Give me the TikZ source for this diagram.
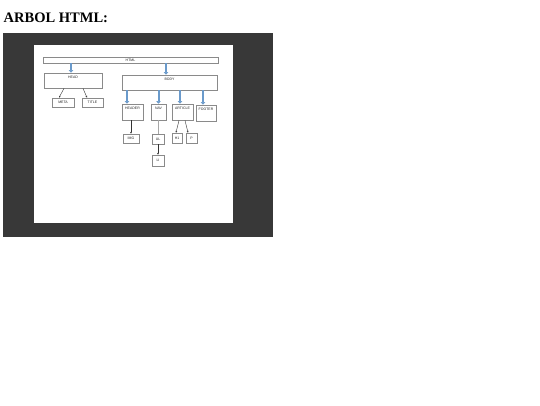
\documentclass[tikz,border=0pt]{standalone}
\usepackage{fontspec}
\setmainfont{Liberation Serif}
\newfontfamily\boxfont{Liberation Sans}
\usetikzlibrary{arrows.meta}
\definecolor{frameclr}{HTML}{383838}
\definecolor{arrblue}{HTML}{6A9ACB}
\definecolor{boxline}{HTML}{8A8A8A}
\tikzset{
  box/.style={draw=boxline, line width=0.8pt, fill=white, inner sep=0pt, font=\boxfont\fontsize{3.5}{4}\selectfont, text=black!85},
  lbl/.style={font=\boxfont\fontsize{3.5}{4}\selectfont, text=black!85, inner sep=0pt, anchor=north, yshift=-3pt},
  bluearr/.style={draw=arrblue, line width=2pt, -{Triangle[length=2.5pt,width=4.5pt]}},
  thinarr/.style={draw=black!80, line width=0.4pt, -{Stealth[length=1.8pt,width=1.8pt]}},
  thinline/.style={draw=black!35, line width=0.6pt}
}
\begin{document}
\begin{tikzpicture}[x=1pt,y=-1pt]
\useasboundingbox (0,0) rectangle (540,405);
\node[anchor=base west, inner sep=0pt, font=\fontsize{14.5}{16}\selectfont\bfseries] (title) at (3.5,22.3) {ARBOL HTML:};
\fill[frameclr] (3,33) rectangle (273,237);
\fill[white] (34,45) rectangle (233,223);
% top level
\node[box, minimum width=175pt, minimum height=6pt] (html) at (130.5,60) {HTML};
\node[box, minimum width=58pt, minimum height=15pt, label={[lbl]north:HEAD}] (head) at (73,80.5) {};
\node[box, minimum width=95pt, minimum height=15pt, label={[lbl]north:BODY}] (body) at (169.5,82.5) {};
\node[box, minimum width=22pt, minimum height=9pt] (meta) at (63,102.5) {META};
\node[box, minimum width=21pt, minimum height=9pt] (titl) at (92.5,102.5) {TITLE};
% body children
\node[box, minimum width=21pt, minimum height=16pt, label={[lbl]north:HEADER}] (header) at (132.5,112) {};
\node[box, minimum width=15pt, minimum height=16pt, label={[lbl]north:NAV}] (nav) at (158.5,112) {};
\node[box, minimum width=21pt, minimum height=16pt, label={[lbl]north:ARTICLE}] (article) at (182.5,112) {};
\node[box, minimum width=20pt, minimum height=16pt, label={[lbl]north:FOOTER}] (footer) at (206,113) {};
\node[box, minimum width=16pt, minimum height=9pt] (img) at (131,138.5) {IMG};
\node[box, minimum width=12pt, minimum height=10pt] (ul) at (158,139) {UL};
\node[box, minimum width=12pt, minimum height=11pt] (li) at (158,160.5) {LI};
\node[box, minimum width=10pt, minimum height=10pt] (h1) at (177,138) {H1};
\node[box, minimum width=11pt, minimum height=10pt] (p) at (191.5,138) {P};
% blue arrows
\draw[bluearr] ([xshift=-2pt]head.north |- html.south) -- ([xshift=-2pt]head.north);
\draw[bluearr] ([xshift=-3.5pt]body.north |- html.south) -- ([xshift=-3.5pt]body.north);
\draw[bluearr] ([xshift=-5.5pt]header.north |- body.south) -- ([xshift=-5.5pt]header.north);
\draw[bluearr] (nav.north |- body.south) -- (nav.north);
\draw[bluearr] ([xshift=-2.5pt]article.north |- body.south) -- ([xshift=-2.5pt]article.north);
\draw[bluearr] ([xshift=-3pt]footer.north |- body.south) -- ([xshift=-3pt]footer.north);
% thin connectors
\draw[thinarr] ([xshift=-9pt]head.south) -- ([xshift=-4pt]meta.north);
\draw[thinarr] ([xshift=10pt]head.south) -- ([xshift=-5.5pt]titl.north);
\draw[thinarr] (img.north |- header.south) -- (img.north);
\draw[thinline] (ul.north |- nav.south) -- (ul.north);
\draw[thinarr] (ul.south) -- (li.north);
\draw[thinarr] ([xshift=-3.5pt]article.south) -- ([xshift=-1pt]h1.north);
\draw[thinarr] ([xshift=2.5pt]article.south) -- ([xshift=-3.5pt]p.north);
\end{tikzpicture}
\end{document}
